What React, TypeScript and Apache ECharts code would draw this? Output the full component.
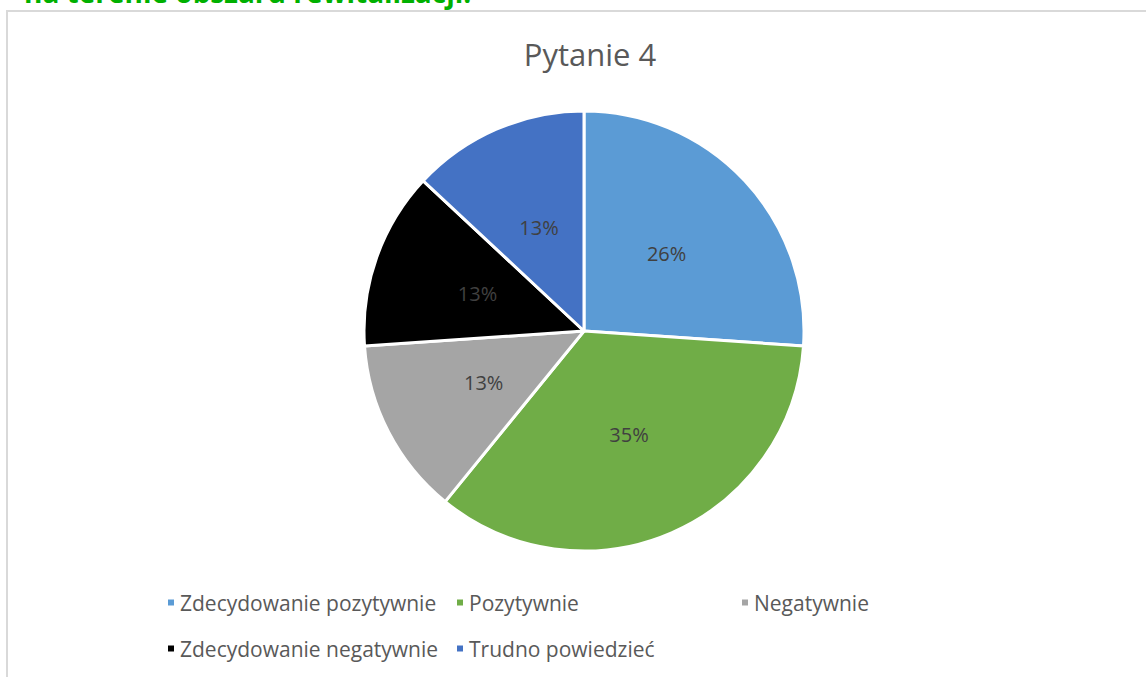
import React, { useEffect, useRef } from "react";
import * as echarts from "echarts";

const categories = [
  "Zdecydowanie pozytywnie",
  "Pozytywnie",
  "Negatywnie",
  "Zdecydowanie negatywnie",
  "Trudno powiedzieć",
];
const values = [6, 8, 3, 3, 3];
const colors = ["#5b9bd5", "#70ad47", "#a5a5a5", "#000000", "#4472c4"];
const legendPos = [
  [166, 592],
  [455, 592],
  [740, 592],
  [166, 638],
  [455, 638],
];

const FONT = "'Open Sans', sans-serif";

export default function App() {
  const ref = useRef<HTMLDivElement>(null);
  useEffect(() => {
    if (!ref.current) return;
    const chart = echarts.init(ref.current, undefined, { renderer: "svg" });
    chart.setOption({
      animation: false,
      backgroundColor: "#ffffff",
      color: colors,
      title: {
        text: "Pytanie 4",
        left: 585,
        textAlign: "center",
        top: 33,
        textStyle: { fontFamily: FONT, fontSize: 31, fontWeight: "normal", color: "#595959" },
      },
      legend: categories.map((c, i) => ({
        data: [c],
        left: legendPos[i][0],
        top: legendPos[i][1],
        padding: 0,
        icon: "rect",
        itemWidth: 8,
        itemHeight: 8,
        itemGap: 6,
        textStyle: { fontFamily: FONT, fontSize: 21, color: "#595959", padding: [0, 0, 0, 0] },
      })),
      graphic: [
        {
          type: "rect",
          shape: { x: 7, y: 11, width: 1160, height: 700 },
          style: { fill: "none", stroke: "#d9d9d9", lineWidth: 2 },
          silent: true,
        },
        {
          type: "text",
          x: 24,
          y: 6,
          style: {
            text: "na terenie obszaru rewitalizacji.",
            fill: "#00b000",
            font: "bold 28px 'Open Sans', sans-serif",
            verticalAlign: "bottom",
          },
          silent: true,
        },
      ],
      series: [
        {
          type: "pie",
          center: [584, 331],
          radius: [0, 220],
          startAngle: 90,
          clockwise: true,
          data: categories.map((c, i) => ({ name: c, value: values[i] })),
          itemStyle: { borderColor: "#ffffff", borderWidth: 3 },
          label: {
            show: true,
            position: "inside",
            formatter: (p: any) => Math.round(p.percent) + "%",
            fontFamily: FONT,
            fontSize: 20,
            color: "#404040",
          },
          labelLine: { show: false },
          emphasis: { disabled: true },
        },
      ],
    });
    return () => chart.dispose();
  }, []);
  return (
    <div
      ref={ref}
      style={{ position: "fixed", left: 0, top: 0, width: 1146, height: 677 }}
    />
  );
}
